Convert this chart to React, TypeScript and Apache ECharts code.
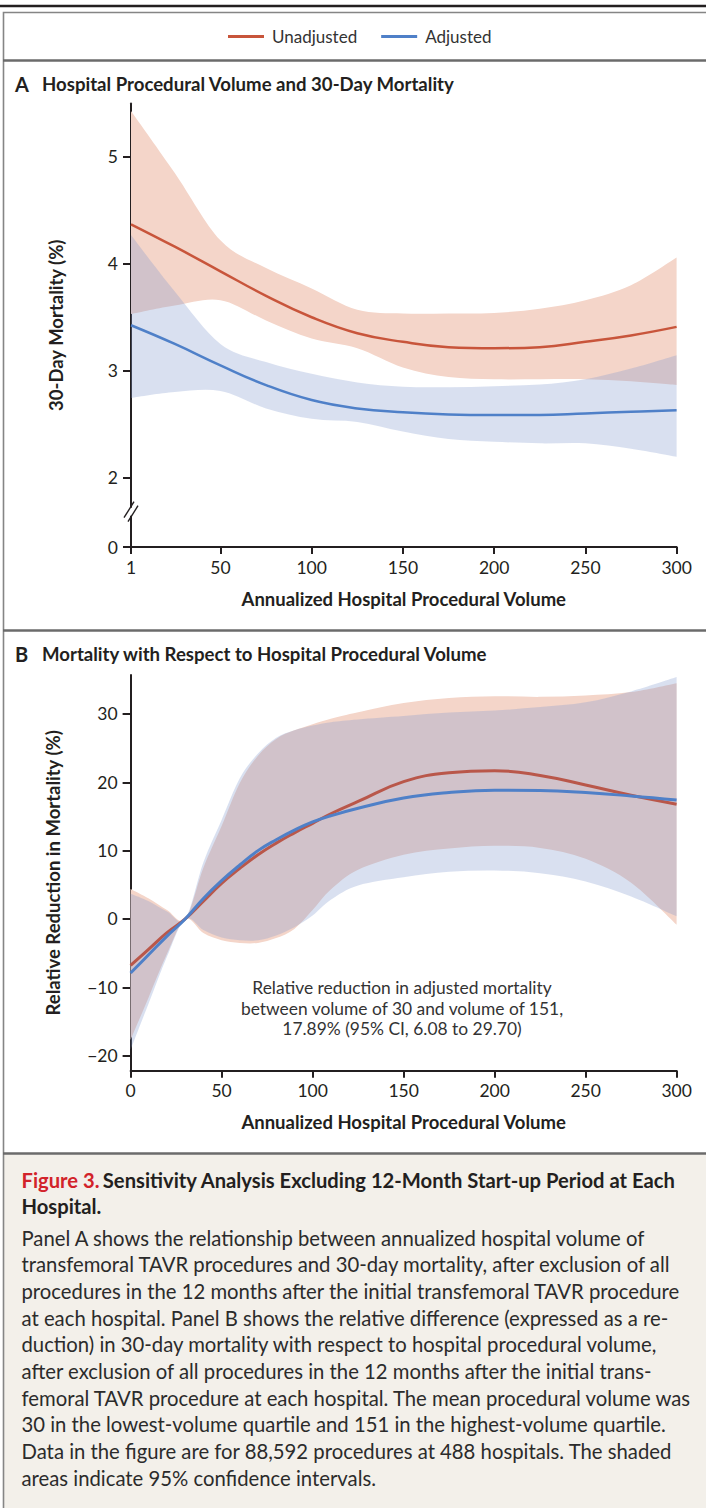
import React, { useEffect, useRef } from 'react';
import * as echarts from 'echarts';

// ---------- Panel A data (annualized volume vs 30-day mortality, %) ----------
const volumeA = [1, 25, 50, 75, 100, 125, 150, 175, 200, 225, 250, 275, 300];
const unadjustedA = [4.37, 4.16, 3.93, 3.7, 3.5, 3.35, 3.27, 3.22, 3.21, 3.22, 3.27, 3.33, 3.41];
const unadjustedUpperA = [5.43, 4.85, 4.22, 3.96, 3.77, 3.57, 3.535, 3.535, 3.54, 3.58, 3.66, 3.8, 4.06];
const unadjustedLowerA = [3.53, 3.61, 3.66, 3.47, 3.3, 3.21, 3.03, 2.94, 2.92, 2.92, 2.92, 2.9, 2.865];
const adjustedA = [3.425, 3.25, 3.05, 2.865, 2.725, 2.647, 2.61, 2.59, 2.585, 2.585, 2.6, 2.615, 2.63];
const adjustedUpperA = [4.27, 3.74, 3.25, 3.08, 2.97, 2.89, 2.85, 2.845, 2.855, 2.87, 2.92, 3.02, 3.145];
const adjustedLowerA = [2.745, 2.8, 2.81, 2.647, 2.55, 2.52, 2.43, 2.36, 2.335, 2.32, 2.32, 2.27, 2.195];

// ---------- Panel B data (relative reduction in mortality, %) ----------
const volumeB = [0, 10, 20, 30, 40, 50, 60, 70, 80, 90, 100, 110, 125, 150, 175, 200, 225, 250, 275, 300];
const unadjustedB = [-6.8, -4.4, -2.0, 0, 2.6, 5.2, 7.4, 9.4, 11.1, 12.6, 14.0, 15.4, 17.2, 20.1, 21.4, 21.7, 21.0, 19.6, 18.1, 16.8];
const unadjustedUpperB = [4.4, 3.0, 1.3, 0, 7.5, 13.6, 19.9, 23.9, 26.35, 27.6, 28.5, 29.3, 30.25, 31.6, 32.35, 32.6, 32.5, 32.7, 33.2, 34.5];
const unadjustedLowerB = [-17.7, -11.4, -5.1, 0, -2.05, -3.1, -3.5, -3.5, -2.8, -1.46, 1.3, 4.3, 7.2, 9.4, 10.3, 10.7, 10.4, 8.8, 5.3, -0.83];
const adjustedB = [-7.9, -5.2, -2.5, 0, 3.0, 5.6, 7.9, 10.0, 11.6, 13.0, 14.2, 15.1, 16.2, 17.7, 18.5, 18.85, 18.8, 18.5, 18.0, 17.4];
const adjustedUpperB = [3.7, 2.6, 1.1, 0, 8.3, 14.5, 20.6, 24.2, 26.5, 27.6, 28.3, 28.8, 29.2, 29.7, 30.2, 30.5, 31.0, 31.7, 33.3, 35.4];
const adjustedLowerB = [-19.1, -12.3, -5.5, 0, -1.6, -2.7, -3.1, -3.1, -2.4, -1.2, 0.5, 2.8, 4.9, 6.1, 6.9, 7.1, 6.7, 5.5, 3.3, 0.4];

// ---------- Ticks ----------
const xTicksA = [1, 50, 100, 150, 200, 250, 300];
const yBreakBase = 1.35; // bottom of the broken axis, labelled "0"
const yTickValuesA = [yBreakBase, 2, 3, 4, 5];
const yTickLabelsA = ['0', '2', '3', '4', '5'];
const yTicksB = [-20, -10, 0, 10, 20, 30];

const legendNames = ['Unadjusted', 'Adjusted'];

const captionTitleRed = 'Figure 3.';
const captionTitle1 = 'Sensitivity Analysis Excluding 12-Month Start-up Period at Each';
const captionTitle2 = 'Hospital.';
const captionLines = [
  'Panel A shows the relationship between annualized hospital volume of',
  'transfemoral TAVR procedures and 30-day mortality, after exclusion of all',
  'procedures in the 12 months after the initial transfemoral TAVR procedure',
  'at each hospital. Panel B shows the relative difference (expressed as a re-',
  'duction) in 30-day mortality with respect to hospital procedural volume,',
  'after exclusion of all procedures in the 12 months after the initial trans-',
  'femoral TAVR procedure at each hospital. The mean procedural volume was',
  '30 in the lowest-volume quartile and 151 in the highest-volume quartile.',
  'Data in the figure are for 88,592 procedures at 488 hospitals. The shaded',
  'areas indicate 95% confidence intervals.',
];
const annotationLines = [
  'Relative reduction in adjusted mortality',
  'between volume of 30 and volume of 151,',
  '17.89% (95% CI, 6.08 to 29.70)',
];

const FONT = 'Lato, "Open Sans", sans-serif';
const INK = '#231f20';
const RED = '#c8553b';
const RED_B = '#b9574a';
const BLUE = '#4f80c8';
const RED_BAND = '#f4d5c9';
const BLUE_BAND = 'rgba(128,152,205,0.3)';

const pairs = (xs: number[], ys: number[]) => xs.map((x, i) => [x, ys[i]]);

// Catmull-Rom spline through pixel points, as cubic Bezier path commands
function spline(pts: number[][], move: boolean): string {
  const f = (p: number[]) => p[0].toFixed(2) + ',' + p[1].toFixed(2);
  let d = move ? 'M' + f(pts[0]) : '';
  for (let i = 0; i < pts.length - 1; i++) {
    const p0 = pts[i - 1] || pts[i];
    const p1 = pts[i];
    const p2 = pts[i + 1];
    const p3 = pts[i + 2] || p2;
    const t = 1 / 6;
    const c1 = [p1[0] + (p2[0] - p0[0]) * t, p1[1] + (p2[1] - p0[1]) * t];
    const c2 = [p2[0] - (p3[0] - p1[0]) * t, p2[1] - (p3[1] - p1[1]) * t];
    d += ' C' + f(c1) + ' ' + f(c2) + ' ' + f(p2);
  }
  return d;
}

function bandSeries(idx: number, name: string, xs: number[], lo: number[], hi: number[], color: string, z: number) {
  return {
    type: 'custom', name, xAxisIndex: idx, yAxisIndex: idx, silent: true, z, clip: true,
    data: xs.map((x, i) => [x, lo[i], hi[i]]),
    encode: { x: 0, y: [1, 2] },
    renderItem: (params: any, api: any) => {
      if (params.dataIndex !== 0) return null;
      const up = xs.map((x, i) => api.coord([x, hi[i]]));
      const dn = xs.map((x, i) => api.coord([x, lo[i]])).reverse();
      const d = spline(up, true) + ' L' + dn[0][0].toFixed(2) + ',' + dn[0][1].toFixed(2) + spline(dn, false) + ' Z';
      return { type: 'path', shape: { pathData: d }, style: { fill: color, stroke: 'none' } };
    },
  };
}

function lineSeries(idx: number, name: string, xs: number[], ys: number[], color: string, width: number, z: number) {
  return {
    type: 'line', name, xAxisIndex: idx, yAxisIndex: idx, data: pairs(xs, ys),
    symbol: 'none', smooth: 0.45, lineStyle: { color, width }, itemStyle: { color }, z,
  };
}

const axisCommon = {
  axisLine: { show: true, onZero: false, lineStyle: { color: INK, width: 2 } },
  splitLine: { show: false },
  nameMoveOverlap: false,
  nameTextStyle: { fontSize: 18.5, fontWeight: 'bold', fontFamily: FONT, color: INK },
};

function textEl(id: string, x: number, y: number, text: string, font: any) {
  return {
    type: 'text', id, x, y, silent: true,
    style: { text, fontFamily: FONT, fill: INK, verticalAlign: 'middle', ...font },
  };
}

export default function App() {
  const ref = useRef<HTMLDivElement>(null);
  useEffect(() => {
    if (!ref.current) return;
    const chart = echarts.init(ref.current, null, { renderer: 'svg' });

    const graphics: any[] = [
      { type: 'line', id: 'topRule', silent: true, shape: { x1: 0, y1: 6, x2: 706, y2: 6 }, style: { stroke: INK, lineWidth: 2.5 } },
      { type: 'rect', id: 'captionBg', silent: true, z: -1, shape: { x: 4, y: 1154, width: 710, height: 360 }, style: { fill: '#f3f0ea' } },
      { type: 'rect', id: 'frame', silent: true, shape: { x: 3.5, y: 12.5, width: 720, height: 1600 }, style: { fill: 'none', stroke: '#858585', lineWidth: 1.6 } },
      { type: 'line', id: 'sep1', silent: true, shape: { x1: 3, y1: 60.5, x2: 706, y2: 60.5 }, style: { stroke: '#6b6b6b', lineWidth: 2.4 } },
      { type: 'line', id: 'sep2', silent: true, shape: { x1: 3, y1: 630.5, x2: 706, y2: 630.5 }, style: { stroke: '#6b6b6b', lineWidth: 2.4 } },
      { type: 'line', id: 'sep3', silent: true, shape: { x1: 3, y1: 1153.5, x2: 706, y2: 1153.5 }, style: { stroke: '#6b6b6b', lineWidth: 2.4 } },
      textEl('titleAL', 15, 84, 'A', { fontSize: 20, fontWeight: 'bold' }),
      textEl('titleA', 42, 84, 'Hospital Procedural Volume and 30-Day Mortality', { fontSize: 18.6, fontWeight: 'bold' }),
      textEl('titleBL', 15, 654, 'B', { fontSize: 20, fontWeight: 'bold' }),
      textEl('titleB', 42, 654, 'Mortality with Respect to Hospital Procedural Volume', { fontSize: 18.6, fontWeight: 'bold' }),
      {
        type: 'text', id: 'capTitle1', x: 21.5, y: 1179.5, silent: true,
        style: {
          text: '{r|' + captionTitleRed + '} {b|' + captionTitle1 + '}',
          verticalAlign: 'middle',
          rich: {
            r: { fontFamily: FONT, fontSize: 20.2, fontWeight: 'bold', fill: '#d2232a' },
            b: { fontFamily: FONT, fontSize: 20.2, fontWeight: 'bold', fill: INK },
          },
        },
      },
      textEl('capTitle2', 21.5, 1206, captionTitle2, { fontSize: 20.2, fontWeight: 'bold' }),
      ...captionLines.map((t, i) => textEl('cap' + i, 21.5, 1237.7 + i * 26.67, t, { fontSize: 20.3, fill: '#2b2b2b' })),
      ...annotationLines.map((t, i) =>
        textEl('ann' + i, 402, 987.5 + i * 20.5, t, { fontSize: 17.4, fill: '#333333', align: 'center' })
      ),
    ];

    const option: any = {
      animation: false,
      backgroundColor: '#ffffff',
      textStyle: { fontFamily: FONT },
      legend: {
        data: legendNames.map((n) => ({ name: n, icon: 'rect' })),
        left: 223, top: 23,
        itemWidth: 36, itemHeight: 3, itemGap: 24,
        textStyle: { fontSize: 17, color: '#333333', fontFamily: FONT, padding: [0, 0, 0, 3] },
        selectedMode: false,
      },
      grid: [
        { left: 131, right: 29.4, top: 103.5, height: 443.5 },
        { left: 130.6, right: 29.4, top: 675, height: 395.7 },
      ],
      xAxis: [
        {
          ...axisCommon, type: 'value', gridIndex: 0, min: 1, max: 300,
          axisTick: { show: true, length: 7, lineStyle: { color: INK, width: 2 }, customValues: xTicksA },
          axisLabel: { customValues: xTicksA, margin: 11, fontSize: 17.5, color: INK, fontFamily: FONT },
          name: 'Annualized Hospital Procedural Volume', nameLocation: 'middle', nameGap: 42,
        },
        {
          ...axisCommon, type: 'value', gridIndex: 1, min: 0, max: 300, interval: 50,
          axisTick: { show: true, length: 7, lineStyle: { color: INK, width: 2 } },
          axisLabel: { margin: 11, fontSize: 17.5, color: INK, fontFamily: FONT },
          name: 'Annualized Hospital Procedural Volume', nameLocation: 'middle', nameGap: 42,
        },
      ],
      yAxis: [
        {
          ...axisCommon, type: 'value', gridIndex: 0, min: yBreakBase, max: 5.5,
          axisTick: { show: true, length: 8, lineStyle: { color: INK, width: 2 }, customValues: yTickValuesA },
          axisLabel: {
            customValues: yTickValuesA, margin: 13, fontSize: 17.5, color: INK, fontFamily: FONT,
            formatter: (v: number) => {
              const i = yTickValuesA.findIndex((t) => Math.abs(t - v) < 1e-6);
              return i >= 0 ? yTickLabelsA[i] : '';
            },
          },
          name: '30-Day Mortality (%)', nameLocation: 'middle', nameGap: 66,
        },
        {
          ...axisCommon, type: 'value', gridIndex: 1, min: -22.2, max: 35.7,
          axisTick: { show: true, length: 8, lineStyle: { color: INK, width: 2 }, customValues: yTicksB },
          axisLabel: {
            customValues: yTicksB, margin: 13, fontSize: 17.5, color: INK, fontFamily: FONT,
            formatter: (v: number) => (v < 0 ? '\u2212' + Math.abs(v) : String(v)),
          },
          name: 'Relative Reduction in Mortality (%)', nameLocation: 'middle', nameGap: 68,
        },
      ],
      series: [
        bandSeries(0, 'Unadjusted 95% CI', volumeA, unadjustedLowerA, unadjustedUpperA, RED_BAND, 1),
        bandSeries(0, 'Adjusted 95% CI', volumeA, adjustedLowerA, adjustedUpperA, BLUE_BAND, 2),
        lineSeries(0, 'Unadjusted', volumeA, unadjustedA, RED, 2.5, 3),
        lineSeries(0, 'Adjusted', volumeA, adjustedA, BLUE, 2.5, 4),
        bandSeries(1, 'Unadjusted 95% CI B', volumeB, unadjustedLowerB, unadjustedUpperB, RED_BAND, 1),
        bandSeries(1, 'Adjusted 95% CI B', volumeB, adjustedLowerB, adjustedUpperB, BLUE_BAND, 2),
        lineSeries(1, 'Unadjusted', volumeB, unadjustedB, RED_B, 3, 3),
        lineSeries(1, 'Adjusted', volumeB, adjustedB, BLUE, 3, 4),
      ],
      graphic: { elements: graphics },
    };
    chart.setOption(option);

    // axis break mark on panel A's y axis
    const p = chart.convertToPixel({ xAxisIndex: 0, yAxisIndex: 0 }, [1, 1.68]) as number[];
    if (p && isFinite(p[0]) && isFinite(p[1])) {
      const bx = p[0], by = p[1];
      chart.setOption({
        graphic: {
          elements: [
            { type: 'rect', id: 'brkGap', silent: true, z: 10, shape: { x: bx - 2, y: by - 4, width: 4, height: 8 }, style: { fill: '#ffffff' } },
            { type: 'line', id: 'brk1', silent: true, z: 11, shape: { x1: bx - 7, y1: by + 6, x2: bx + 3, y2: by - 10 }, style: { stroke: INK, lineWidth: 1.4 } },
            { type: 'line', id: 'brk2', silent: true, z: 11, shape: { x1: bx - 3, y1: by + 10, x2: bx + 7, y2: by - 6 }, style: { stroke: INK, lineWidth: 1.4 } },
          ],
        },
      });
    }
    return () => chart.dispose();
  }, []);

  return (
    <div
      ref={ref}
      style={{ position: 'absolute', left: 0, top: 0, width: 706, height: 1508 }}
    />
  );
}
